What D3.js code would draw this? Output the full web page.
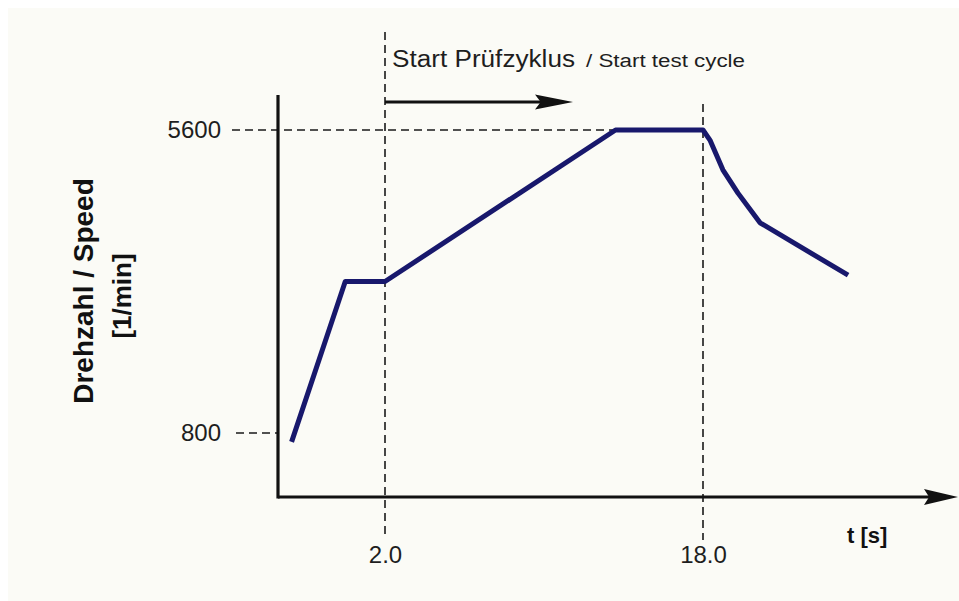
<!DOCTYPE html>
<html>
<head>
<meta charset="utf-8">
<script src="https://cdn.jsdelivr.net/npm/d3@7"></script>
<style>
  body { margin: 0; background: #ffffff; }
  svg { display: block; font-family: "Liberation Sans", Arial, sans-serif; }
  .tick text { fill: #1e1e1e; }
</style>
</head>
<body>
<svg id="chart" width="959" height="601"></svg>
<script>

// speed profile of the test cycle (time in s, speed in 1/min)
var timeS  = [-2.7, 0, 2, 13.6, 18, 18.35, 19.0, 19.76, 20.87, 25.3];
var speed  = [660, 3200, 3200, 5600, 5600, 5440, 4970, 4600, 4130, 3300];

var xTicks = [2, 18];
var xTickLabels = ["2.0", "18.0"];
var yTicks = [800, 5600];
var yTickLabels = ["800", "5600"];

var svg = d3.select('#chart');

// faint paper background
svg.append('rect')
  .attr('x', 8).attr('y', 8).attr('width', 951).attr('height', 593)
  .attr('fill', '#fbfbf6');

var axisLeftX = 278, axisBottomY = 497, axisTopY = 95, axisRightX = 958;

var x = d3.scaleLinear().domain([2, 18]).range([385, 703]);
var y = d3.scaleLinear().domain([800, 5600]).range([433, 130]);

function dart(tipX, tipY, len, half) {
  // arrow head pointing right
  return 'M' + tipX + ',' + tipY +
    'L' + (tipX - len) + ',' + (tipY - half) +
    'L' + (tipX - len * 0.85) + ',' + tipY +
    'L' + (tipX - len) + ',' + (tipY + half) + 'Z';
}

// helper dashed lines
var dash = svg.append('g')
  .attr('stroke', '#1a1a1a')
  .attr('stroke-width', 1.6)
  .attr('stroke-dasharray', '8,5')
  .attr('fill', 'none');

dash.append('line')
  .attr('x1', 232).attr('x2', x(timeS[3]))
  .attr('y1', y(5600)).attr('y2', y(5600));
dash.append('line')
  .attr('x1', 236).attr('x2', axisLeftX)
  .attr('y1', y(800)).attr('y2', y(800));
dash.append('line')
  .attr('x1', x(2)).attr('x2', x(2))
  .attr('y1', 32).attr('y2', 536);
dash.append('line')
  .attr('x1', x(18)).attr('x2', x(18))
  .attr('y1', 104).attr('y2', 540);

// axes
svg.append('line')
  .attr('x1', axisLeftX).attr('x2', axisLeftX)
  .attr('y1', axisTopY).attr('y2', axisBottomY + 1.5)
  .attr('stroke', '#111').attr('stroke-width', 3.2);
svg.append('line')
  .attr('x1', axisLeftX).attr('x2', axisRightX - 20)
  .attr('y1', axisBottomY).attr('y2', axisBottomY)
  .attr('stroke', '#111').attr('stroke-width', 3.2);
svg.append('path')
  .attr('d', dart(axisRightX, axisBottomY, 34, 8))
  .attr('fill', '#111');

var xAxis = d3.axisBottom(x)
  .tickValues(xTicks)
  .tickFormat(function(d, i) { return xTickLabels[i]; })
  .tickSize(0).tickPadding(49);
var gx = svg.append('g')
  .attr('transform', 'translate(0,' + axisBottomY + ')')
  .call(xAxis);
gx.select('.domain').remove();
gx.selectAll('text')
  .attr('font-size', 24)
  .attr('font-family', '"Liberation Sans", Arial, sans-serif');

var yAxis = d3.axisLeft(y)
  .tickValues(yTicks)
  .tickFormat(function(d, i) { return yTickLabels[i]; })
  .tickSize(0).tickPadding(57);
var gy = svg.append('g')
  .attr('transform', 'translate(' + axisLeftX + ',0)')
  .call(yAxis);
gy.select('.domain').remove();
gy.selectAll('text')
  .attr('font-size', 24)
  .attr('font-family', '"Liberation Sans", Arial, sans-serif');

// speed curve
var pts = timeS.map(function(t, i) { return [t, speed[i]]; });
var line = d3.line()
  .x(function(d) { return x(d[0]); })
  .y(function(d) { return y(d[1]); });

svg.append('path')
  .datum(pts)
  .attr('d', line)
  .attr('fill', 'none')
  .attr('stroke', '#18186c')
  .attr('stroke-width', 5)
  .attr('stroke-linejoin', 'round')
  .attr('stroke-linecap', 'butt');

// start of test cycle arrow
svg.append('line')
  .attr('x1', x(2)).attr('x2', 545)
  .attr('y1', 102).attr('y2', 102)
  .attr('stroke', '#111').attr('stroke-width', 3);
svg.append('path')
  .attr('d', dart(573, 102, 38, 7.5))
  .attr('fill', '#111');

svg.append('text')
  .attr('x', 392).attr('y', 67)
  .attr('font-size', 23)
  .attr('fill', '#1e1e1e')
  .attr('textLength', 183).attr('lengthAdjust', 'spacingAndGlyphs')
  .text('Start Prüfzyklus');
svg.append('text')
  .attr('x', 586).attr('y', 67)
  .attr('font-size', 18)
  .attr('fill', '#1e1e1e')
  .attr('textLength', 159).attr('lengthAdjust', 'spacingAndGlyphs')
  .text('/ Start test cycle');

// axis titles
svg.append('text')
  .attr('transform', 'translate(93,291) rotate(-90)')
  .attr('text-anchor', 'middle')
  .attr('font-size', 28).attr('font-weight', 'bold')
  .attr('fill', '#111')
  .text('Drehzahl / Speed');
svg.append('text')
  .attr('transform', 'translate(131,296) rotate(-90)')
  .attr('text-anchor', 'middle')
  .attr('font-size', 26).attr('font-weight', 'bold')
  .attr('fill', '#111')
  .text('[1/min]');

svg.append('text')
  .attr('x', 847).attr('y', 543)
  .attr('font-size', 22).attr('font-weight', 'bold')
  .attr('fill', '#111')
  .text('t [s]');

</script>
</body>
</html>
